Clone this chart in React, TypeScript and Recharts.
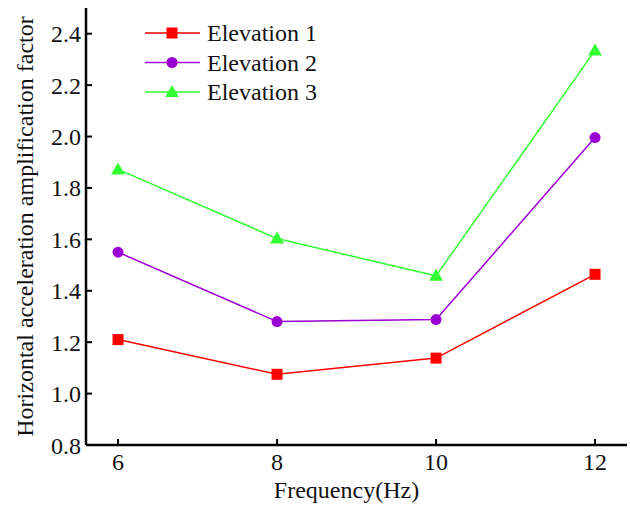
import React from 'react';
import { LineChart, Line, XAxis, YAxis, Label } from 'recharts';

const frequencies = [6, 8, 10, 12];
const elevation1 = [1.21, 1.075, 1.138, 1.464];
const elevation2 = [1.55, 1.28, 1.288, 1.996];
const elevation3 = [1.872, 1.603, 1.458, 2.335];
const yTicks = [0.8, 1.0, 1.2, 1.4, 1.6, 1.8, 2.0, 2.2, 2.4];
const xTicks = [6, 8, 10, 12];

const seriesNames = ['Elevation 1', 'Elevation 2', 'Elevation 3'];
const colors = ['#ff0000', '#9b00d3', '#33ff33'];
const shapes = ['square', 'circle', 'triangle'];

const data = frequencies.map((f, i) => ({
  f,
  e1: elevation1[i],
  e2: elevation2[i],
  e3: elevation3[i],
}));

const FONT = '"Liberation Serif", "Times New Roman", serif';

function Marker({ cx, cy, shape, color }: any) {
  if (cx == null || cy == null) return null;
  if (shape === 'square') {
    return <rect x={cx - 5.5} y={cy - 5.5} width={11} height={11} fill={color} />;
  }
  if (shape === 'circle') {
    return <circle cx={cx} cy={cy} r={5.5} fill={color} />;
  }
  return (
    <polygon
      points={`${cx},${cy - 7} ${cx - 7},${cy + 5} ${cx + 7},${cy + 5}`}
      fill={color}
    />
  );
}

const makeDot = (shape: string, color: string) => (props: any) => (
  <Marker key={`${shape}-${props.index}`} cx={props.cx} cy={props.cy} shape={shape} color={color} />
);

function LegendBox() {
  return (
    <svg
      width={200}
      height={90}
      style={{ position: 'absolute', left: 140, top: 20, overflow: 'visible' }}
    >
      {seriesNames.map((name, i) => {
        const y = 13 + i * 29.5;
        return (
          <g key={name}>
            <line x1={5} x2={60} y1={y} y2={y} stroke={colors[i]} strokeWidth={1.5} />
            <Marker cx={32} cy={y} shape={shapes[i]} color={colors[i]} />
            <text x={67} y={y} dy="0.35em" fontFamily={FONT} fontSize={24} fill="#111">
              {name}
            </text>
          </g>
        );
      })}
    </svg>
  );
}

export default function App() {
  return (
    <div style={{ position: 'absolute', left: 0, top: 0, width: 630, height: 505, background: '#fff' }}>
      <LineChart
        width={630}
        height={505}
        data={data}
        margin={{ top: 8, right: 3, bottom: 0, left: 0 }}
      >
        <XAxis
          dataKey="f"
          type="number"
          domain={[5.597, 12.402]}
          ticks={xTicks}
          allowDataOverflow
          height={60}
          axisLine={{ stroke: '#000', strokeWidth: 2.5 }}
          tickLine={{ stroke: '#000', strokeWidth: 2 }}
          tickSize={-6}
          tickMargin={14}
          tick={{ fill: '#111', fontSize: 24, fontFamily: FONT }}
        >
          <Label
            content={({ viewBox }: any) => (
              <text
                x={viewBox.x + viewBox.width / 2 - 10}
                y={498}
                textAnchor="middle"
                fontFamily={FONT}
                fontSize={24}
                fill="#111"
              >
                Frequency(Hz)
              </text>
            )}
          />
        </XAxis>
        <YAxis
          type="number"
          domain={[0.8, 2.5]}
          ticks={yTicks}
          allowDataOverflow
          width={86}
          axisLine={{ stroke: '#000', strokeWidth: 2.5 }}
          tickLine={{ stroke: '#000', strokeWidth: 2 }}
          tickSize={-6}
          tickMargin={11}
          tickFormatter={(v: number) => v.toFixed(1)}
          tick={{ fill: '#111', fontSize: 24, fontFamily: FONT }}
        >
          <Label
            content={({ viewBox }: any) => {
              const cx = 25;
              const cy = viewBox.y + viewBox.height / 2;
              return (
                <text
                  x={cx}
                  y={cy}
                  transform={`rotate(-90 ${cx} ${cy})`}
                  textAnchor="middle"
                  dy="0.35em"
                  fontFamily={FONT}
                  fontSize={24}
                  fill="#111"
                >
                  Horizontal acceleration amplification factor
                </text>
              );
            }}
          />
        </YAxis>
        <Line
          dataKey="e1"
          name={seriesNames[0]}
          stroke={colors[0]}
          strokeWidth={1.5}
          dot={makeDot(shapes[0], colors[0])}
          activeDot={false}
          isAnimationActive={false}
        />
        <Line
          dataKey="e2"
          name={seriesNames[1]}
          stroke={colors[1]}
          strokeWidth={1.5}
          dot={makeDot(shapes[1], colors[1])}
          activeDot={false}
          isAnimationActive={false}
        />
        <Line
          dataKey="e3"
          name={seriesNames[2]}
          stroke={colors[2]}
          strokeWidth={1.5}
          dot={makeDot(shapes[2], colors[2])}
          activeDot={false}
          isAnimationActive={false}
        />
      </LineChart>
      <LegendBox />
    </div>
  );
}
